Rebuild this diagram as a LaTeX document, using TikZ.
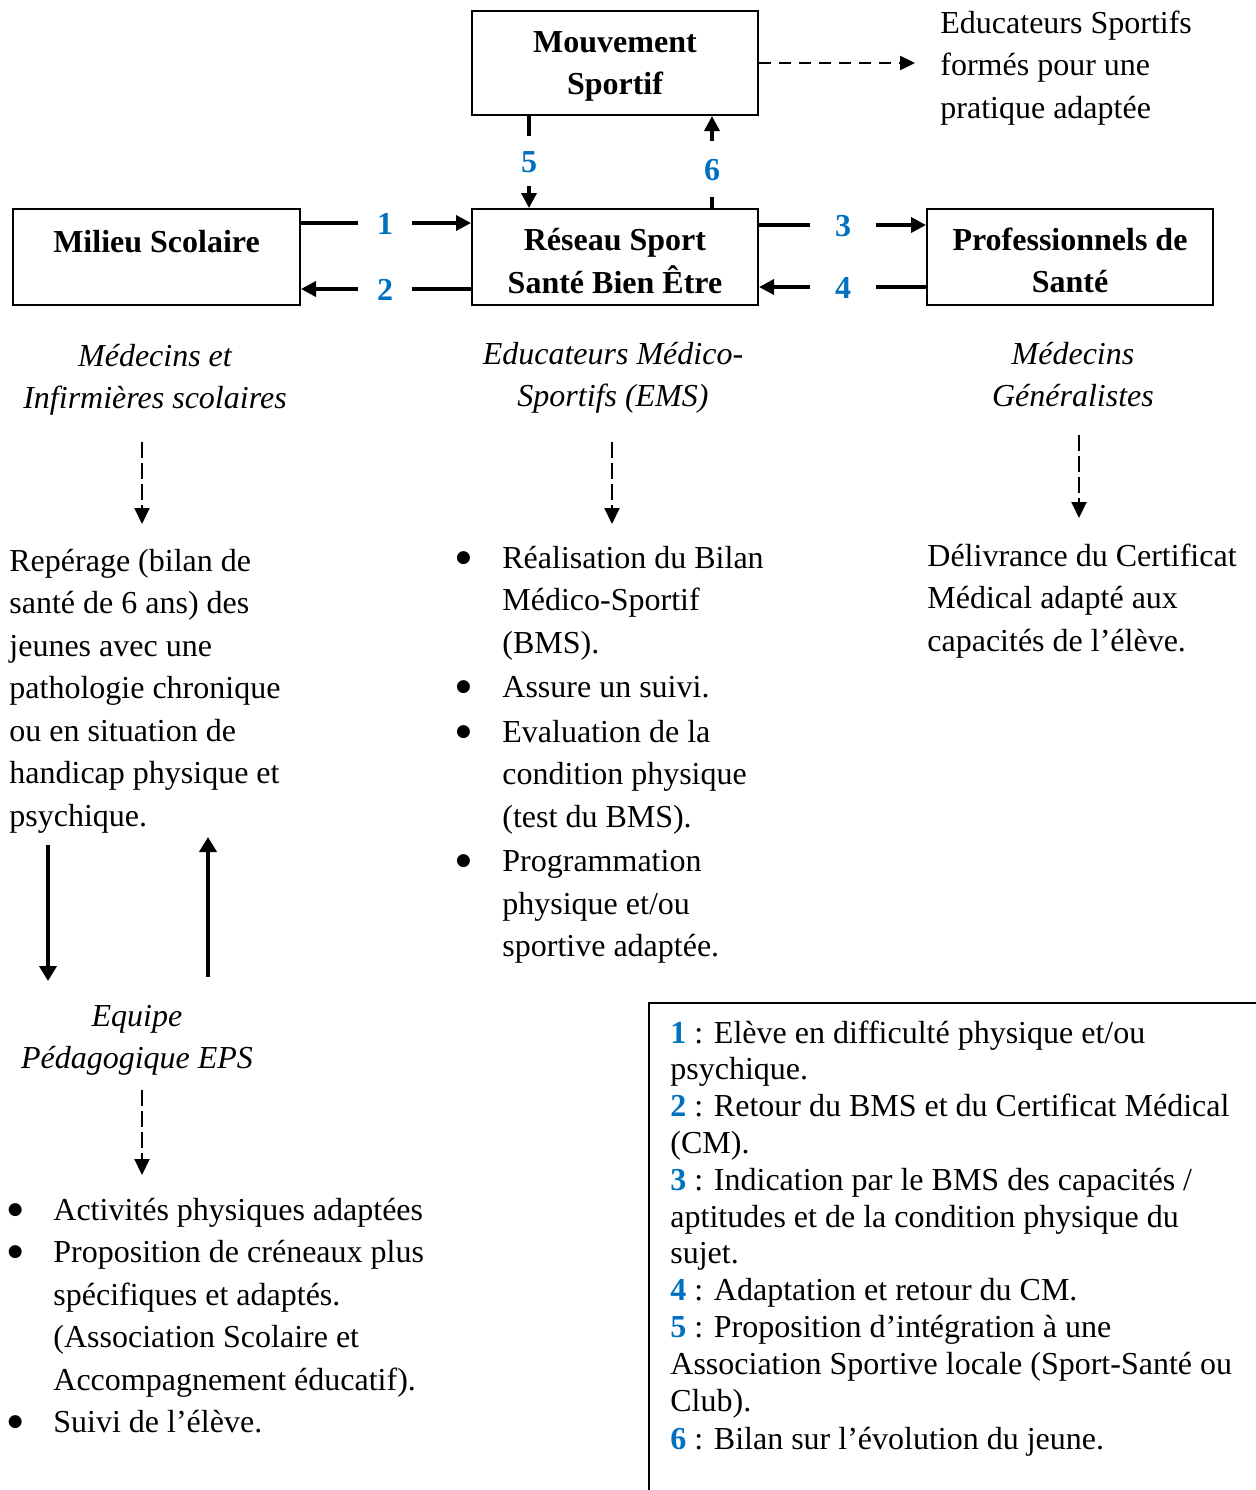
\documentclass[tikz,border=0pt]{standalone}
\usepackage{fontspec}
\setmainfont{Liberation Serif}
\newfontfamily\symfont{DejaVu Sans}
\usetikzlibrary{arrows.meta}
\definecolor{numblue}{RGB}{0,112,192}
\newcommand\mylines[2][l]{\begin{tabular}[t]{@{}#1@{}}#2\end{tabular}}
\newcommand\bxt[2]{\raisebox{0pt}[0pt][#1]{\mylines[c]{#2}}}
\newsavebox\bulbox
\newcommand\bul[1]{\makebox[#1][l]{\hspace{0.3pt}\raisebox{\dimexpr5pt-(\ht\bulbox-\dp\bulbox)/2\relax}{\usebox\bulbox}}}
\newcommand\lnum[1]{\textbf{\textcolor{numblue}{#1}}}
\begin{document}
\sbox\bulbox{\symfont\fontsize{8.5}{8.5}\selectfont ●}%
\begin{tikzpicture}[x=0.5pt,y=-0.5pt,
  every node/.style={inner sep=0pt,font=\fontsize{16}{21.25}\selectfont},
  box/.style={draw,line width=1pt,font=\fontsize{16}{21.25}\selectfont\bfseries},
  num/.style={font=\fontsize{16}{21.25}\selectfont\bfseries,text=numblue,text height=11pt,text depth=0pt},
  txt/.style={anchor=base west},
  ital/.style={anchor=base,font=\fontsize{16}{21.25}\selectfont\itshape},
  conn/.style={line width=1.75pt},
  conntip/.style={line width=1.75pt,-{Triangle[length=7.5pt,width=7.5pt]}},
  dasharr/.style={line width=1.2pt,dash pattern=on 6pt off 4pt,-{Triangle[length=7.5pt,width=7pt]}},
  vdash/.style={line width=1pt,dash pattern=on 8pt off 2.5pt,-{Triangle[length=8pt,width=7.5pt]}},
  bigarr/.style={line width=2pt,-{Triangle[length=7.5pt,width=8.5pt]}},
  legline/.style={line width=1pt}]
\clip (0,0) rectangle (1256,1490);
% boxes
\node[box,minimum width=143pt,minimum height=52pt] (mvt) at (615,63) {\bxt{11pt}{Mouvement\\Sportif}};
\node[box,minimum width=143.5pt,minimum height=48pt] (milieu) at (156.5,257) {\bxt{5pt}{Milieu Scolaire}};
\node[box,minimum width=143pt,minimum height=48pt] (reseau) at (615,257) {\bxt{6.5pt}{Réseau Sport\\Santé Bien Être}};
\node[box,minimum width=143pt,minimum height=48pt] (pro) at (1070,257) {\bxt{7pt}{Professionnels de\\Santé}};
% numbers
\node[num,minimum width=27pt] (n1) at (385,223) {1};
\node[num,minimum width=27pt] (n2) at (385,289) {2};
\node[num,minimum width=33pt] (n3) at (843,225) {3};
\node[num,minimum width=33pt] (n4) at (843,287) {4};
\node[num,minimum height=24.5pt] (n5) at (529,161) {5};
\node[num,minimum height=28pt] (n6) at (712,169) {6};
% connectors
\draw[conn] (milieu.east |- n1) -- (n1.west);
\draw[conntip] (n1.east) -- (reseau.west |- n1);
\draw[conn] (reseau.west |- n2) -- (n2.east);
\draw[conntip] (n2.west) -- (milieu.east |- n2);
\draw[conn] (reseau.east |- n3) -- (n3.west);
\draw[conntip] (n3.east) -- (pro.west |- n3);
\draw[conn] (pro.west |- n4) -- (n4.east);
\draw[conntip] (n4.west) -- (reseau.east |- n4);
\draw[conn] (mvt.south -| n5) -- (n5.north);
\draw[conntip] (n5.south) -- (reseau.north -| n5);
\draw[conn] (reseau.north -| n6) -- (n6.south);
\draw[conntip] (n6.north) -- (mvt.south -| n6);
% top right
\node[txt,inner xsep=12.5pt] (edu) at (915,33) {\mylines{Educateurs Sportifs\\formés pour une\\pratique adaptée}};
\draw[dasharr] (mvt.east) -- (mvt.east -| edu.west);
% italic labels
\node[ital] (lab1) at (155,366) {\mylines[c]{Médecins et\\Infirmières scolaires}};
\node[ital] (lab2) at (613,364) {\mylines[c]{Educateurs Médico-\\Sportifs (EMS)}};
\node[ital] (lab3) at (1073,364) {\mylines[c]{Médecins\\Généralistes}};
\node[ital] (lab4) at (137,1026) {\mylines[c]{Equipe\\Pédagogique EPS}};
% dashed down arrows
\coordinate (d1a) at (142,442); \coordinate (d1b) at (142,524);
\coordinate (d2a) at (612,442); \coordinate (d2b) at (612,524);
\coordinate (d3a) at (1079,435); \coordinate (d3b) at (1079,518);
\coordinate (d4a) at (142,1090); \coordinate (d4b) at (142,1175);
\draw[vdash] (d1a) -- (d1b);
\draw[vdash] (d2a) -- (d2b);
\draw[vdash] (d3a) -- (d3b);
\draw[vdash] (d4a) -- (d4b);
% paragraphs
\node[txt] (rep) at (9,571) {\mylines{Repérage (bilan de\\santé de 6 ans) des\\jeunes avec une\\pathologie chronique\\ou en situation de\\handicap physique et\\psychique.}};
\node[txt] (ems) at (455,568) {\begin{tabular}[t]{@{}l@{}l@{}}
\bul{23.5pt} & Réalisation du Bilan\\
 & Médico-Sportif\\
 & (BMS).\\[1pt]
\bul{23.5pt} & Assure un suivi.\\[1pt]
\bul{23.5pt} & Evaluation de la\\
 & condition physique\\
 & (test du BMS).\\[1pt]
\bul{23.5pt} & Programmation\\
 & physique et/ou\\
 & sportive adaptée.
\end{tabular}};
\node[txt] (del) at (927,566) {\mylines{Délivrance du Certificat\\Médical adapté aux\\capacités de l’élève.}};
% solid vertical arrows
\coordinate (v1a) at (48,845); \coordinate (v1b) at (48,981);
\coordinate (v2a) at (208,977); \coordinate (v2b) at (208,837);
\draw[bigarr] (v1a) -- (v1b);
\draw[bigarr] (v2a) -- (v2b);
% EPS bullets
\node[txt] (eps) at (7,1220) {\begin{tabular}[t]{@{}l@{}l@{}}
\bul{23pt} & Activités physiques adaptées\\
\bul{23pt} & Proposition de créneaux plus\\
 & spécifiques et adaptés.\\
 & (Association Scolaire et\\
 & Accompagnement éducatif).\\
\bul{23pt} & Suivi de l’élève.
\end{tabular}};
% legend
\draw[legline] (649,1520) -- (649,1003) -- (1290,1003);
\node[txt,font=\fontsize{16}{18.4}\selectfont] (leg) at (670,1043) {\mylines{\lnum{1} : Elève en difficulté physique et/ou\\psychique.\\\lnum{2} : Retour du BMS et du Certificat Médical\\(CM).\\\lnum{3} : Indication par le BMS des capacités /\\aptitudes et de la condition physique du\\sujet.\\\lnum{4} : Adaptation et retour du CM.\\\lnum{5} : Proposition d’intégration à une\\Association Sportive locale (Sport-Santé ou\\Club).\\[1pt]\lnum{6} : Bilan sur l’évolution du jeune.}};
\end{tikzpicture}
\end{document}
